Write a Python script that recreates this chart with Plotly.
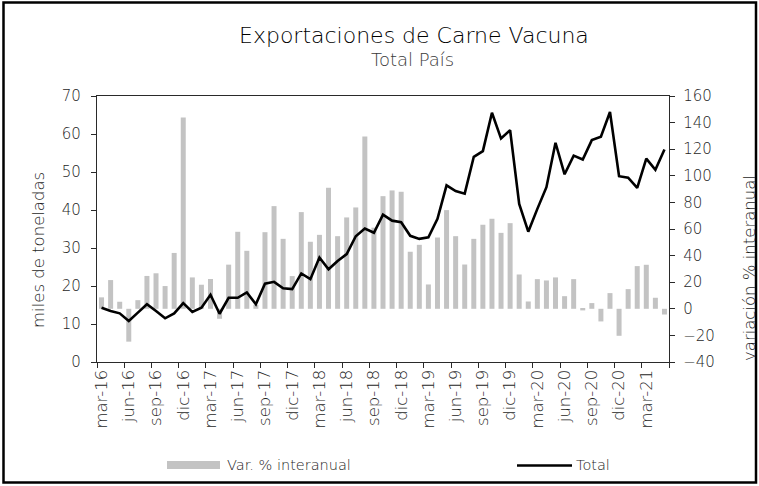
import plotly.graph_objects as go

# Monthly series, mar-16 .. may-21
month_names = ["ene", "feb", "mar", "abr", "may", "jun",
               "jul", "ago", "sep", "oct", "nov", "dic"]
months = []
y, m = 2016, 2
for _ in range(63):
    months.append(f"{month_names[m]}-{str(y)[2:]}")
    m += 1
    if m == 12:
        m, y = 0, y + 1

# Total exports (miles de toneladas)
total = [14.3, 13.4, 12.8, 10.8, 13.0, 15.2, 13.4, 11.5, 12.8, 15.5,
         13.2, 14.3, 17.7, 12.7, 16.9, 16.9, 18.3, 15.2, 20.6, 21.1,
         19.4, 19.2, 23.3, 21.8, 27.5, 24.4, 26.6, 28.4, 33.1, 35.1,
         34.0, 38.8, 37.2, 36.8, 33.2, 32.4, 32.8, 37.7, 46.5, 45.0,
         44.3, 54.0, 55.5, 65.6, 58.8, 61.0, 41.6, 34.3, 40.3, 46.0,
         57.7, 49.4, 54.3, 53.3, 58.4, 59.3, 65.8, 48.9, 48.5, 45.8,
         53.5, 50.6, 55.9]

# Year-on-year change (%)
var_yoy = [8.6, 21.6, 5.3, -24.7, 6.5, 24.7, 26.7, 17.1, 42.0, 143.9,
           23.6, 18.1, 22.4, -7.5, 33.2, 57.9, 43.6, 3.0, 57.6, 77.2,
           52.6, 24.6, 72.7, 50.4, 55.6, 91.0, 54.6, 68.7, 76.2, 129.6,
           61.0, 84.7, 89.0, 88.0, 42.9, 48.1, 18.3, 53.6, 74.2, 54.6,
           33.3, 52.6, 63.2, 67.7, 57.1, 64.4, 25.8, 5.5, 22.3, 21.3,
           23.6, 9.5, 22.3, -1.2, 4.3, -9.5, 11.8, -20.3, 14.8, 32.1,
           33.1, 8.3, -4.3]

tick_idx = list(range(0, 61, 3))
tick_text = [months[i] for i in tick_idx]

FONT = "DejaVu Sans"
WEIGHT = 200
AX = "#2a2a2a"
TXT = "#1e1e1e"

# plot area in pixels
L, R, T, B = 97, 669, 96, 362
W, H = R - L, B - T


def px(xp):
    return (xp - L) / W


def py(yp):
    return (B - yp) / H


def f(size, color=TXT):
    return dict(family=FONT, size=size, color=color, weight=WEIGHT)


idx = list(range(len(months)))

fig = go.Figure()
fig.add_trace(go.Bar(x=idx, y=var_yoy, name="Var. % interanual",
                     marker=dict(color="#c3c3c3", line=dict(width=0)),
                     yaxis="y", showlegend=False))
fig.add_trace(go.Scatter(x=idx, y=total, name="Total", mode="lines",
                         line=dict(color="#000000", width=2.6),
                         yaxis="y2", showlegend=False))

fig.update_layout(
    width=759, height=486,
    margin=dict(l=L, r=759 - R, t=T, b=486 - B),
    paper_bgcolor="white", plot_bgcolor="white",
    font=f(14),
    bargap=0.45,
    xaxis=dict(range=[-0.5, 62.5], tickmode="array", tickvals=tick_idx,
               ticktext=tick_text, tickangle=-90, ticks="",
               showline=True, linecolor=AX, linewidth=1.3, mirror=True,
               showgrid=False, zeroline=False,
               tickfont=f(16.5),
               minor=dict(tickmode="array",
                          tickvals=[i - 0.5 for i in range(0, 64, 3)],
                          ticks="outside", ticklen=5, tickcolor=AX,
                          tickwidth=1.2, showgrid=False)),
    yaxis=dict(range=[-40, 160], dtick=20, side="right",
               showline=True, linecolor=AX, linewidth=1.3,
               ticks="outside", ticklen=5, tickcolor=AX, tickwidth=1.2,
               ticklabelstandoff=5,
               showgrid=False, zeroline=False,
               tickfont=f(15)),
    yaxis2=dict(range=[0, 70], dtick=10, side="left", overlaying="y",
                showline=True, linecolor=AX, linewidth=1.3,
                ticks="outside", ticklen=5, tickcolor=AX, tickwidth=1.2,
                ticklabelstandoff=7,
                showgrid=False, zeroline=False,
                tickfont=f(15)),
)

ann = [
    dict(text="Exportaciones de Carne Vacuna", x=px(414), y=py(36),
         font=f(22, "#000000")),
    dict(text="Total País", x=px(413), y=py(60),
         font=f(18, "#3a3a3a")),
    dict(text="miles de toneladas", x=px(38), y=py(250), textangle=-90,
         font=f(16.5)),
    dict(text="variación % interanual", x=px(749), y=py(268),
         textangle=-90, font=f(16.5)),
    dict(text="Var. % interanual", x=px(225), y=py(465), xanchor="left",
         font=f(14.5)),
    dict(text="Total", x=px(574), y=py(465), xanchor="left",
         font=f(14.5)),
]
for a in ann:
    a.setdefault("xanchor", "center")
    fig.add_annotation(xref="paper", yref="paper", showarrow=False,
                       yanchor="middle", **a)

shapes = [
    # legend swatches
    dict(type="rect", x0=px(167), x1=px(220), y0=py(469), y1=py(461),
         fillcolor="#c3c3c3", line=dict(width=0)),
    dict(type="line", x0=px(517), x1=px(572), y0=py(465.5), y1=py(465.5),
         line=dict(color="#000000", width=2.6)),
    # outer frame
    dict(type="rect", x0=px(3.5), x1=px(756), y0=py(482.5), y1=py(2.5),
         line=dict(color="#000000", width=2.5), fillcolor="rgba(0,0,0,0)"),
]
for s in shapes:
    fig.add_shape(xref="paper", yref="paper", layer="above", **s)

fig.write_html("out.html")
